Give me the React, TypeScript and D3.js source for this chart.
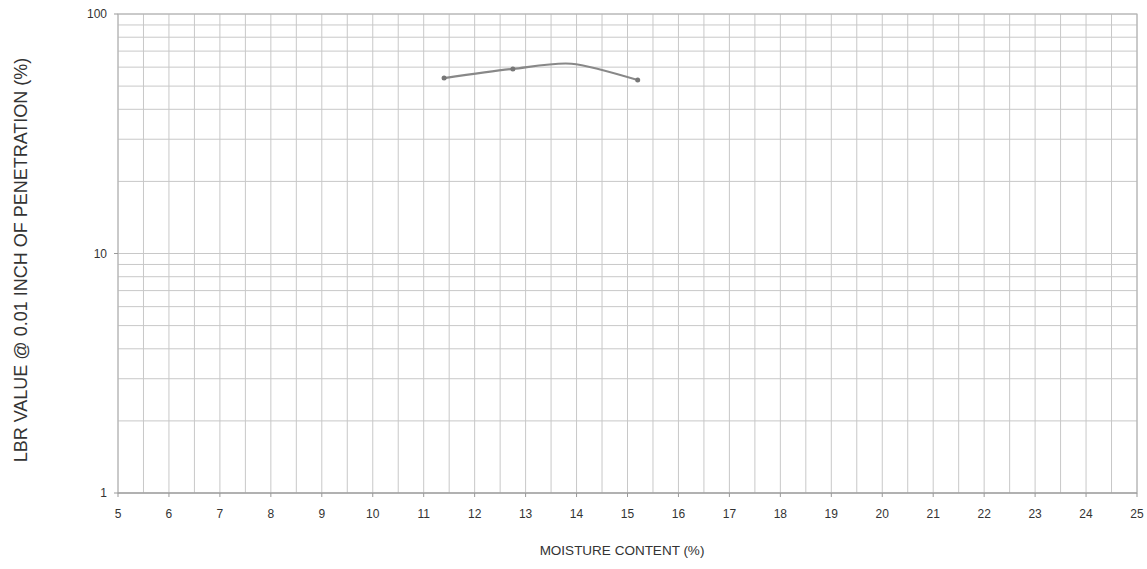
import * as d3 from "d3";

// moisture content (%) vs LBR value (%)
const moisture = [11.4, 12.75, 13.9, 15.2];
const lbr = [54, 59, 62, 53];
const marked = [true, true, false, true];

const xTicks = d3.range(5, 26, 1);
const yTicks = [1, 10, 100];

export default function App() {
  const width = 1147;
  const height = 569;
  const left = 118;
  const right = 1137;
  const top = 14;
  const bottom = 493;

  const x = d3.scaleLinear().domain([5, 25]).range([left, right]);
  const y = d3.scaleLog().domain([1, 100]).range([bottom, top]);

  const vGrid = d3.range(5, 25.01, 0.5);
  const hGrid: number[] = [];
  [1, 10].forEach((d) => {
    for (let k = 1; k <= 10; k++) hGrid.push(d * k);
  });

  const pts = moisture.map((m, i) => [m, lbr[i]] as [number, number]);
  const line = d3
    .line<[number, number]>()
    .x((d) => x(d[0]))
    .y((d) => y(d[1]))
    .curve(d3.curveCardinal.tension(0.2));

  return (
    <svg
      width={width}
      height={height}
      style={{ position: "absolute", left: 0, top: 0, background: "#fff" }}
      fontFamily="Liberation Sans, Arial, sans-serif"
    >
      <g>
        {/* vertical grid */}
        {vGrid.map((v) => (
          <line
            key={"v" + v}
            x1={x(v)}
            x2={x(v)}
            y1={top}
            y2={bottom}
            stroke="#c8c8c8"
            strokeWidth={1}
          />
        ))}
        {/* horizontal grid */}
        {hGrid.map((v) => (
          <line
            key={"h" + v}
            x1={left}
            x2={right}
            y1={y(v)}
            y2={y(v)}
            stroke="#c8c8c8"
            strokeWidth={1}
          />
        ))}

        {/* frame */}
        <rect
          x={left}
          y={top}
          width={right - left}
          height={bottom - top}
          fill="none"
          stroke="#b0b0b0"
        />
        <line x1={left} x2={right} y1={bottom} y2={bottom} stroke="#999" />

        {/* x ticks */}
        {xTicks.map((v) => (
          <g key={"xt" + v}>
            <line x1={x(v)} x2={x(v)} y1={bottom} y2={bottom + 4} stroke="#999" />
            <text
              x={x(v)}
              y={bottom + 25}
              textAnchor="middle"
              fontSize={12}
              fill="#333"
            >
              {v}
            </text>
          </g>
        ))}

        {/* y ticks */}
        {yTicks.map((v) => (
          <g key={"yt" + v}>
            <line x1={left - 4} x2={left} y1={y(v)} y2={y(v)} stroke="#999" />
            <text
              x={left - 11}
              y={y(v)}
              textAnchor="end"
              dominantBaseline="central"
              fontSize={12}
              fill="#333"
            >
              {v}
            </text>
          </g>
        ))}

        {/* data curve */}
        <path d={line(pts) ?? ""} fill="none" stroke="#888" strokeWidth={2.2} />
        {pts.map((d, i) =>
          marked[i] ? (
            <circle
              key={"p" + i}
              cx={x(d[0])}
              cy={y(d[1])}
              r={2.5}
              fill="#777"
            />
          ) : null
        )}

        {/* axis titles */}
        <text
          x={622}
          y={555}
          textAnchor="middle"
          fontSize={13.5}
          fill="#333"
        >
          MOISTURE CONTENT (%)
        </text>
        <text
          transform={`translate(21, 260) rotate(-90)`}
          textAnchor="middle"
          dominantBaseline="central"
          fontSize={18}
          fill="#333"
        >
          LBR VALUE @ 0.01 INCH OF PENETRATION (%)
        </text>
      </g>
    </svg>
  );
}
